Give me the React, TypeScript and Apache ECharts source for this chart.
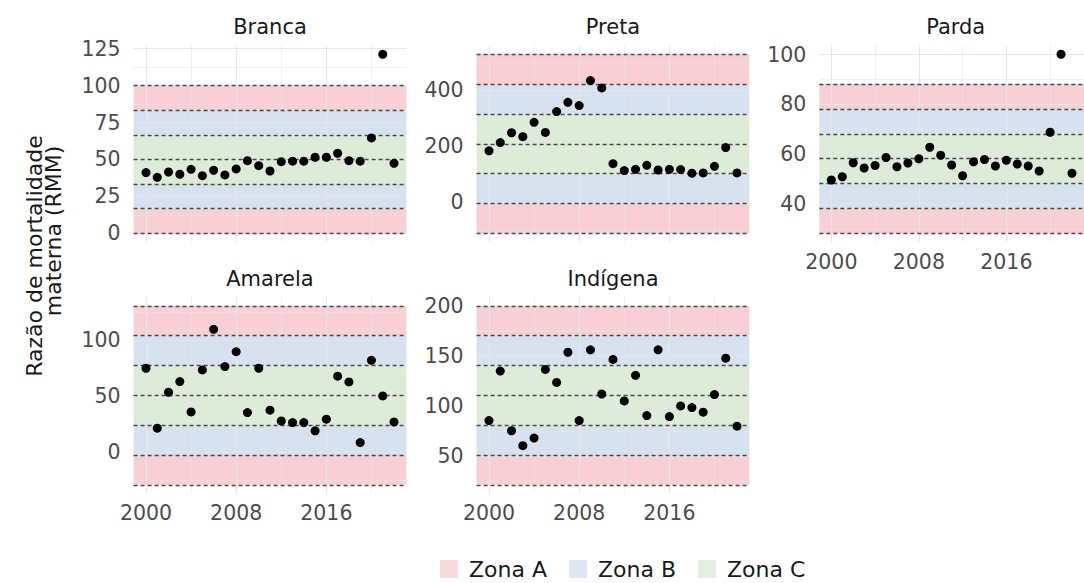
import React, { useEffect, useRef } from "react";
import * as echarts from "echarts";

const YEARS = [2000, 2001, 2002, 2003, 2004, 2005, 2006, 2007, 2008, 2009, 2010, 2011, 2012, 2013, 2014, 2015, 2016, 2017, 2018, 2019, 2020, 2021, 2022];
const X_TICKS = [2000, 2008, 2016];
const X_MINOR = [2004, 2012, 2020];

const BRANCA = [41.1, 37.9, 41.5, 40, 43.3, 39, 42.7, 39.5, 43.6, 49.2, 45.8, 42.2, 48.5, 48.8, 48.8, 51.5, 51.5, 54.2, 49.2, 48.8, 64.6, 121.2, 47.4];
const PRETA = [183.5, 213, 248, 234, 285, 249, 323.5, 356.5, 345, 434, 408, 137.6, 113, 117.6, 131.8, 115, 117.6, 116.5, 103.5, 104.7, 128, 195, 104.7];
const PARDA = [49.8, 51.1, 56.7, 54.6, 55.6, 58.8, 55.1, 56.6, 58.3, 62.9, 59.7, 55.8, 51.5, 57.1, 58, 55.4, 57.7, 56.2, 55.4, 53.4, 68.9, 100.1, 52.5];
const AMARELA = [74.8, 21.4, 53.4, 62.9, 35.9, 73.3, 109.5, 76.3, 89.6, 35.3, 74.8, 37.4, 27.9, 26.4, 26.4, 19, 29.4, 67.7, 62.6, 8.6, 81.9, 50.1, 27];
const INDIGENA = [85.4, 134.8, 75.2, 60.3, 67.9, 136.4, 123.5, 153.6, 85.4, 156, 111.9, 146.4, 105, 130.5, 90.4, 156, 89.4, 100, 98.3, 93.7, 111.3, 147.7, 79.8];

const PANEL_NAMES = ["Branca", "Preta", "Parda", "Amarela", "Indígena"];
const ZONE_CENTER = [50, 208.5, 58.3, 50.7, 110.6];
const ZONE_STEP = [16.67, 106.5, 9.95, 26.6, 29.8];

const Y_TICKS = [
  [0, 25, 50, 75, 100, 125],
  [0, 200, 400],
  [40, 60, 80, 100],
  [0, 50, 100],
  [50, 100, 150, 200],
];
const Y_MINOR = [
  [12.5, 37.5, 62.5, 87.5, 112.5],
  [-100, 100, 300, 500],
  [30, 50, 70, 90],
  [-25, 25, 75, 125],
  [25, 75, 125, 175],
];

const ZONE_NAMES = ["Zona A", "Zona B", "Zona C"];
const ZONE_COLORS = ["rgba(244,191,198,0.75)", "rgba(200,216,235,0.75)", "rgba(208,230,202,0.75)"];

const FONT = "'DejaVu Sans', sans-serif";

const VALUES = [BRANCA, PRETA, PARDA, AMARELA, INDIGENA];
const PANEL_LEFT = [133.6, 476.6, 819.3, 133.6, 476.6];
const PANEL_TOP = [45.3, 45.3, 45.3, 296.8, 296.8];
const PANEL_W = 272.8;
const PANEL_H = 197;
const SHOW_X = [false, false, true, true, true];

function buildOption() {
  const grid: any[] = [];
  const xAxis: any[] = [];
  const yAxis: any[] = [];
  const series: any[] = [];
  const graphic: any[] = [];

  PANEL_NAMES.forEach((name, i) => {
    const vals = VALUES[i];
    const c = ZONE_CENTER[i];
    const s = ZONE_STEP[i];
    const lo = Math.min(c - 3 * s, ...vals);
    const hi = Math.max(c + 3 * s, ...vals);
    const pad = 0.05 * (hi - lo);
    grid.push({ left: PANEL_LEFT[i], top: PANEL_TOP[i], width: PANEL_W, height: PANEL_H });
    xAxis.push({
      gridIndex: i,
      type: "value",
      min: 1998.9,
      max: 2023.1,
      axisLine: { show: false },
      axisTick: { show: false },
      splitLine: { show: false },
      axisLabel: {
        show: SHOW_X[i],
        customValues: X_TICKS,
        formatter: (v: number) => String(v),
        fontSize: 20.5,
        color: "#4d4d4d",
        fontFamily: FONT,
        margin: 9,
      },
    });
    yAxis.push({
      gridIndex: i,
      type: "value",
      min: lo - pad,
      max: hi + pad,
      axisLine: { show: false },
      axisTick: { show: false },
      splitLine: { show: false },
      axisLabel: {
        customValues: Y_TICKS[i],
        formatter: (v: number) => String(v),
        fontSize: 20.5,
        color: "#4d4d4d",
        fontFamily: FONT,
        margin: 13,
      },
    });

    const gl: any[] = [];
    X_TICKS.forEach((v) => gl.push({ xAxis: v, lineStyle: { width: 1.1 } }));
    X_MINOR.forEach((v) => gl.push({ xAxis: v, lineStyle: { width: 0.6 } }));
    Y_TICKS[i].forEach((v) => gl.push({ yAxis: v, lineStyle: { width: 1.1 } }));
    Y_MINOR[i].forEach((v) => gl.push({ yAxis: v, lineStyle: { width: 0.6 } }));
    series.push({
      type: "scatter",
      name: "grid" + i,
      xAxisIndex: i,
      yAxisIndex: i,
      data: [],
      z: 1,
      silent: true,
      markLine: {
        silent: true,
        symbol: "none",
        label: { show: false },
        lineStyle: { color: "#e6e6e6", type: "solid" },
        emphasis: { disabled: true },
        data: gl,
      },
    });

    const bands = [
      [[c - 3 * s, c - 2 * s], [c + 2 * s, c + 3 * s]],
      [[c - 2 * s, c - s], [c + s, c + 2 * s]],
      [[c - s, c + s]],
    ];
    bands.forEach((b, k) => {
      series.push({
        type: "scatter",
        name: ZONE_NAMES[k],
        xAxisIndex: i,
        yAxisIndex: i,
        data: [],
        z: 2,
        silent: true,
        itemStyle: { color: ZONE_COLORS[k] },
        markArea: {
          silent: true,
          itemStyle: { color: ZONE_COLORS[k] },
          emphasis: { disabled: true },
          data: b.map((r) => [{ yAxis: r[0] }, { yAxis: r[1] }]),
        },
      });
    });

    const dl: any[] = [];
    for (let k = -3; k <= 3; k++) dl.push({ yAxis: c + k * s });
    series.push({
      type: "scatter",
      name: "dash" + i,
      xAxisIndex: i,
      yAxisIndex: i,
      data: [],
      z: 3,
      silent: true,
      markLine: {
        silent: true,
        symbol: "none",
        label: { show: false },
        lineStyle: { color: "#4a4a4a", type: [4, 3], width: 1.3 },
        emphasis: { disabled: true },
        data: dl,
      },
    });

    series.push({
      type: "scatter",
      name: name,
      xAxisIndex: i,
      yAxisIndex: i,
      z: 5,
      symbolSize: 9,
      itemStyle: { color: "#000000", opacity: 1 },
      data: YEARS.map((y, j) => [y, vals[j]]),
    });

    graphic.push({
      type: "text",
      x: PANEL_LEFT[i] + PANEL_W / 2,
      y: PANEL_TOP[i] - 18,
      style: {
        text: name,
        fontSize: 21,
        fontFamily: FONT,
        fill: "#1a1a1a",
        textAlign: "center",
        textVerticalAlign: "middle",
      },
    });
  });

  graphic.push({
    type: "text",
    x: 34,
    y: 256,
    rotation: Math.PI / 2,
    style: {
      text: "Razão de mortalidade",
      fontSize: 22,
      fontFamily: FONT,
      fill: "#1a1a1a",
      textAlign: "center",
      textVerticalAlign: "middle",
    },
  });
  graphic.push({
    type: "text",
    x: 53.5,
    y: 231,
    rotation: Math.PI / 2,
    style: {
      text: "materna (RMM)",
      fontSize: 22,
      fontFamily: FONT,
      fill: "#1a1a1a",
      textAlign: "center",
      textVerticalAlign: "middle",
    },
  });

  return {
    animation: false,
    backgroundColor: "#ffffff",
    grid,
    xAxis,
    yAxis,
    series,
    graphic,
    legend: {
      data: ZONE_NAMES.map((n, k) => ({ name: n, itemStyle: { color: ZONE_COLORS[k] } })),
      left: 435,
      top: 553,
      orient: "horizontal",
      icon: "rect",
      itemWidth: 18,
      itemHeight: 18,
      itemGap: 22,
      selectedMode: false,
      formatter: (n: string) => "{a|" + n + "}",
      textStyle: {
        fontSize: 22,
        fontFamily: FONT,
        color: "#1a1a1a",
        rich: { a: { fontSize: 22, fontFamily: FONT, color: "#1a1a1a", padding: [0, 0, 0, 6] } },
      },
    },
  };
}

export default function App() {
  const ref = useRef<HTMLDivElement>(null);
  useEffect(() => {
    if (!ref.current) return;
    const chart = echarts.init(ref.current, null, { renderer: "svg" });
    chart.setOption(buildOption() as any);
    return () => chart.dispose();
  }, []);
  return (
    <div
      ref={ref}
      style={{ position: "fixed", left: 0, top: 0, width: 1084, height: 583, background: "#fff" }}
    />
  );
}
